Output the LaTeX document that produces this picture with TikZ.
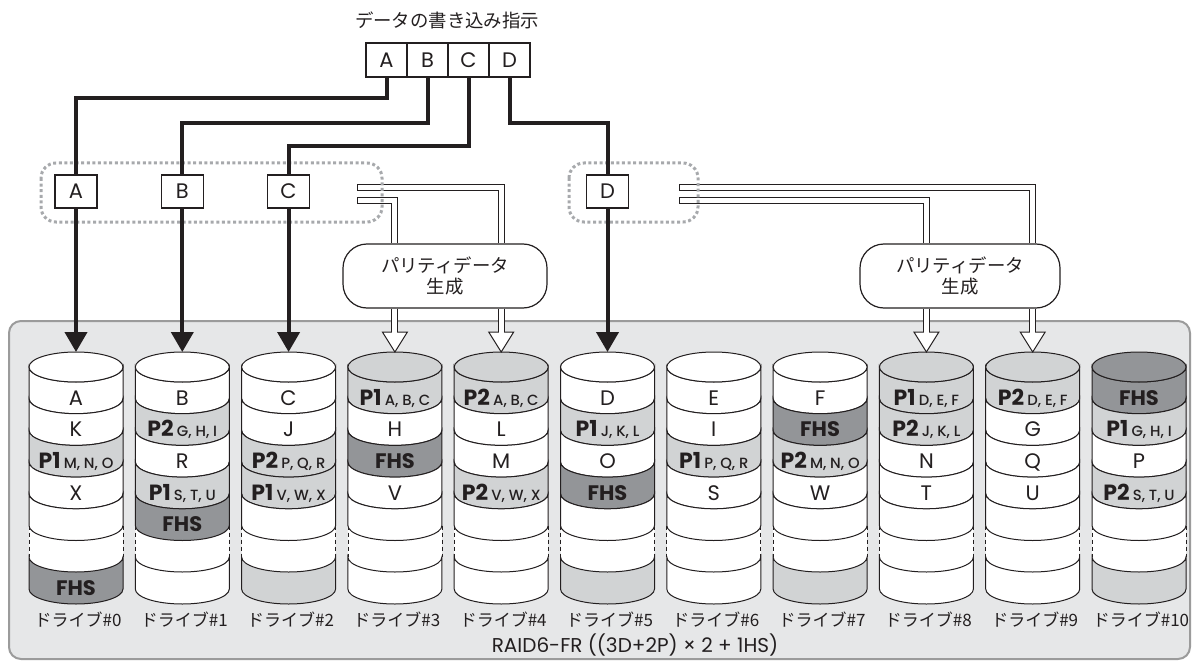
\documentclass[tikz,border=0pt]{standalone}
\usepackage{fontspec}
\setmainfont{Poppins}
\newfontfamily\pmed{Poppins Medium}
\newfontfamily\jp{Noto Sans CJK JP}
\usetikzlibrary{arrows.meta,calc,positioning}

\definecolor{ink}{HTML}{231F20}
\definecolor{panelbg}{HTML}{E6E7E8}
\definecolor{panelln}{HTML}{9B9B9B}
\definecolor{cw}{HTML}{FFFFFF}
\definecolor{cl}{HTML}{D1D3D4}
\definecolor{cd}{HTML}{939598}
\definecolor{dotgray}{HTML}{A7A9AC}

% parity slice label: bold P1/P2 plus small stripe members
\newcommand\pp[2]{{\bfseries\fontsize{11}{11}\selectfont #1}\hspace{1.6pt}{\pmed\fontsize{7.4}{8}\selectfont #2}}
\newcommand\fhs{{\bfseries\fontsize{10.5}{11}\selectfont FHS}}
% hollow (double line) arrow from parity box down to a drive top
\newcommand\hollowarrow[2]{%
  \draw[chan] (#1) -- ($(#2)+(0,20)$);
  \draw[fill=white, line width=0.5pt] ($(#2)+(-12.5,20)$) -- (#2) -- ($(#2)+(12.5,20)$) -- cycle;
  \draw[chanin] (#1) -- ($(#2)+(0,19)$);
}

\tikzset{
  wbox/.style={draw, fill=white, line width=0.6pt, minimum width=20.5pt, minimum height=17pt, inner sep=0pt, font=\fontsize{10.5}{10}\selectfont},
  gbox/.style={wbox, minimum width=21pt, minimum height=16.5pt},
  parity/.style={draw, fill=white, rounded corners=12pt, line width=0.6pt, minimum width=102pt, minimum height=32pt, align=center, font=\jp\fontsize{9.2}{10.5}\selectfont},
  wire/.style={line width=2pt},
  wirehead/.style={-{Triangle[length=10pt,width=11pt]}},
  grp/.style={dotgray, line width=1.5pt, dash pattern=on 1.5pt off 1.3pt, rounded corners=7.5pt},
  chan/.style={line width=3.5pt},
  chanin/.style={white, line width=2.5pt},
  dlbl/.style={font=\jp\fontsize{8.5}{9}\selectfont},
}

\begin{document}
\begin{tikzpicture}[x=0.5pt, y=0.5pt, color=ink, font=\fontsize{10.5}{11}\selectfont]
\useasboundingbox (0,0) rectangle (1192,-663);
% Drive group panel
\draw[panelln, fill=panelbg, line width=1pt, rounded corners=6pt] (9,-321) rectangle (1190,-659);
% Drives #0..#10, slices top to bottom, last one below the gap
\foreach \cells [count=\n from 0] in {
  {w/A, w/K, l/{\pp{P1}{M, N, O}}, w/X, w/{}, d/\fhs},
  {w/B, l/{\pp{P2}{G, H, I}}, w/R, l/{\pp{P1}{S, T, U}}, d/\fhs, w/{}},
  {w/C, w/J, l/{\pp{P2}{P, Q, R}}, l/{\pp{P1}{V, W, X}}, w/{}, l/{}},
  {l/{\pp{P1}{A, B, C}}, w/H, d/\fhs, w/V, w/{}, w/{}},
  {l/{\pp{P2}{A, B, C}}, w/L, w/M, l/{\pp{P2}{V, W, X}}, w/{}, w/{}},
  {w/D, l/{\pp{P1}{J, K, L}}, w/O, d/\fhs, w/{}, l/{}},
  {w/E, w/I, l/{\pp{P1}{P, Q, R}}, w/S, w/{}, w/{}},
  {w/F, d/\fhs, l/{\pp{P2}{M, N, O}}, w/W, w/{}, l/{}},
  {l/{\pp{P1}{D, E, F}}, l/{\pp{P2}{J, K, L}}, w/N, w/T, w/{}, w/{}},
  {l/{\pp{P2}{D, E, F}}, w/G, w/Q, w/U, w/{}, w/{}},
  {d/\fhs, l/{\pp{P1}{G, H, I}}, w/P, l/{\pp{P2}{S, T, U}}, w/{}, l/{}}%
}{
  \pgfmathsetmacro\cx{76+106.3*\n}
  \coordinate (d\n) at (\cx,-352);
  % gap with dashed sides
  \fill[white] (\cx-47,-525.5) arc[start angle=180, end angle=360, x radius=23.5pt, y radius=7.5pt]
    -- (\cx+47,-557) arc[start angle=0, end angle=-180, x radius=23.5pt, y radius=7.5pt] -- cycle;
  \draw[line width=0.4pt, dash pattern=on 2pt off 1.5pt] (\cx-47,-525.5) -- (\cx-47,-557) (\cx+47,-525.5) -- (\cx+47,-557);
  \foreach \clr/\lab [count=\k] in \cells {
    \ifnum\k<6
      \pgfmathsetmacro\yt{367+31.7*(\k-1)}
      \pgfmathsetmacro\yb{\yt+31.7}
    \else
      \def\yt{557}\def\yb{589}
    \fi
    \filldraw[fill=c\clr, line width=0.5pt] (\cx-47,-\yt) -- (\cx-47,-\yb)
      arc[start angle=180, end angle=360, x radius=23.5pt, y radius=7.5pt] -- (\cx+47,-\yt)
      arc[start angle=0, end angle=-180, x radius=23.5pt, y radius=7.5pt] -- cycle;
    \ifnum\k=1
      \filldraw[fill=c\clr, line width=0.5pt] (\cx,-367) ellipse[x radius=23.5pt, y radius=7.5pt];
    \fi
    \node[anchor=base, inner sep=0pt] (s\n-\k) at (\cx,-\yt-38) {\lab};
  }
  \node[dlbl] (lbl\n) at (\cx+2,-620) {ドライブ\#\n};
}
\node[font=\fontsize{10}{11}\selectfont] (raid) at (635,-645) {RAID6-FR ((3D+2P) × 2 + 1HS)};

% write request and data blocks
\node[font=\jp\fontsize{9.2}{10}\selectfont] (title) at (447,-20) {データの書き込み指示};
\node[wbox] (wa) at (386.5,-60) {A};
\node[wbox] (wb) at (427.5,-60) {B};
\node[wbox] (wc) at (468.5,-60) {C};
\node[wbox] (wd) at (509.5,-60) {D};
\coordinate (grow) at (0,-191.5);
\node[gbox] (ga) at (d0 |- grow) {A};
\node[gbox] (gb) at (d1 |- grow) {B};
\node[gbox] (gc) at (d2 |- grow) {C};
\node[gbox] (gd) at (d5 |- grow) {D};
\node[parity] (pb1) at (445,-276) {パリティデータ\\生成};
\node[parity, minimum width=100pt] (pb2) at (960,-276) {パリティデータ\\生成};

% parity channels
\coordinate (c1a) at (357,-187.5);
\coordinate (c1b) at (357,-201);
\coordinate (c2a) at (679,-187.5);
\coordinate (c2b) at (679,-201);
\foreach \src/\dn/\pb in {c1a/d4/pb1, c1b/d3/pb1, c2a/d9/pb2, c2b/d8/pb2} {
  \draw[chan] (\src) -| (\pb.north -| \dn);
  \draw[chanin, shorten <=0.5pt] (\src) -| (\pb.north -| \dn);
  \hollowarrow{\pb.south -| \dn}{\dn}
}

% stripe groups
\draw[grp] (41,-163) rectangle (382,-222);
\draw[grp] (569,-163) rectangle (698,-222);

% data wires
\draw[wire] (wa.south) -- ++(0,-20) -| (ga.north);
\draw[wire] (wb.south) -- ++(0,-45) -| (gb.north);
\draw[wire] (wc.south) -- ++(0,-68) -| (gc.north);
\draw[wire] (wd.south) -- ++(0,-45) -| (gd.north);
\foreach \gn/\dn in {ga/d0, gb/d1, gc/d2, gd/d5}
  \draw[wire, wirehead] (\gn) -- (\dn);
\end{tikzpicture}
\end{document}
